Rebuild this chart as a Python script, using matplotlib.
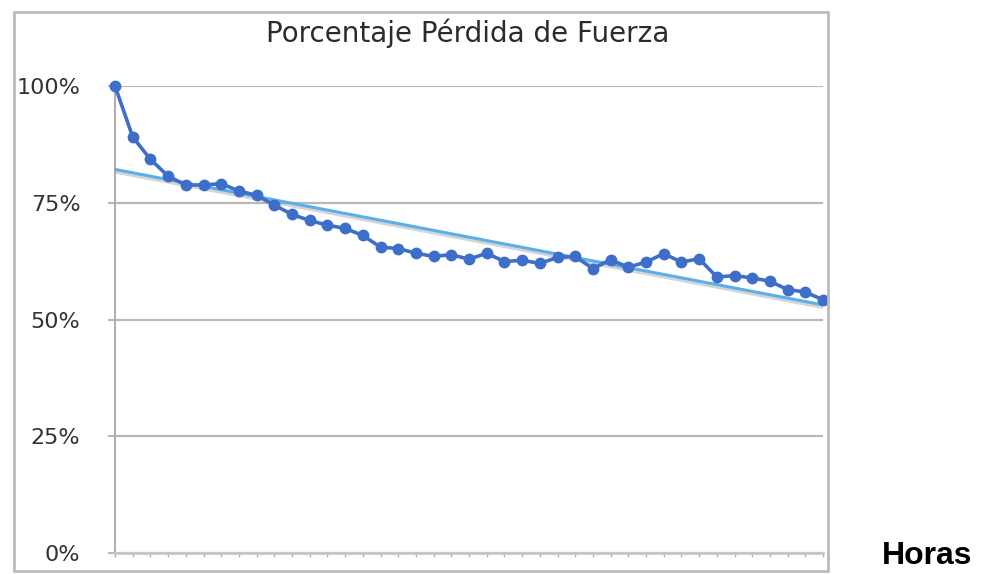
import numpy as np
import matplotlib
matplotlib.use("Agg")
import matplotlib.pyplot as plt
import matplotlib.patheffects as pe
from matplotlib.patches import Rectangle
from matplotlib.ticker import FuncFormatter

###--- Data ---###
horas = np.arange(41)
fuerza = [100, 89.1, 84.3, 80.7, 78.8, 78.8, 79.1, 77.5, 76.6, 74.5,
          72.5, 71.2, 70.2, 69.5, 68.0, 65.5, 65.2, 64.2, 63.5, 63.9,
          62.9, 64.2, 62.4, 62.7, 62.0, 63.3, 63.5, 60.9, 62.8, 61.2,
          62.3, 64.1, 62.3, 63.0, 59.1, 59.4, 58.9, 58.2, 56.4, 55.9, 54.2]
yticks = [0, 25, 50, 75, 100]
titulo = "Porcentaje Pérdida de Fuerza"
xlabel = "Horas"

fuerza = np.array(fuerza) / 100.0

### Linear trendline
coef = np.polyfit(horas, fuerza, 1)
trend = np.polyval(coef, horas)

###--- Figure ---###
fig = plt.figure(figsize=(9.87, 5.74), dpi=100)
ax = fig.add_axes([115/987, 1 - 553/574, (823 - 115)/987, (553 - 86)/574])

grid_c = "#b8b8b8"
ax.plot(horas, trend, color="#5aaeea", lw=2.2, zorder=3,
        path_effects=[pe.SimpleLineShadow(offset=(0.5, -2), shadow_color="#888888", alpha=0.35),
                      pe.Normal()])
ax.plot(horas, fuerza, color="#3d6fca", lw=2.6, marker="o", ms=7.5, zorder=4, clip_on=False)

ax.set_xlim(0, 40)
ax.set_ylim(0, 1)
ax.set_xticks(horas)
ax.set_xticklabels([])
ax.set_yticks([t / 100 for t in yticks])
ax.yaxis.set_major_formatter(FuncFormatter(lambda v, p: f"{v*100:.0f}%"))
ax.tick_params(axis="x", direction="out", length=3, width=1, color="#b0b0b0")
ax.tick_params(axis="y", direction="out", length=5, width=1.5, color=grid_c,
               labelsize=16, labelcolor="#333333", pad=20)
ax.grid(axis="y", color=grid_c, lw=1.6)
ax.set_axisbelow(True)
for s in ["top", "right"]:
    ax.spines[s].set_visible(False)
ax.spines["left"].set_color("#b0b0b0")
ax.spines["left"].set_linewidth(1.5)
ax.spines["bottom"].set_color("#c8c8c8")
ax.spines["bottom"].set_linewidth(2)

### Chart border box
fig.patches.append(Rectangle((14/987, 1 - 571/574), (828 - 14)/987, (571 - 12)/574,
                             transform=fig.transFigure, fill=False,
                             edgecolor="#bbbbbb", lw=2))

fig.text(468/987, 1 - 33/574, titulo, ha="center", va="center",
         fontsize=20, color="#2b2b2b")
fig.text(882/987, 1 - 556/574, xlabel, ha="left", va="center",
         fontsize=23, fontweight="bold", family="Liberation Sans", color="black")

fig.savefig("out.png", dpi=100)
